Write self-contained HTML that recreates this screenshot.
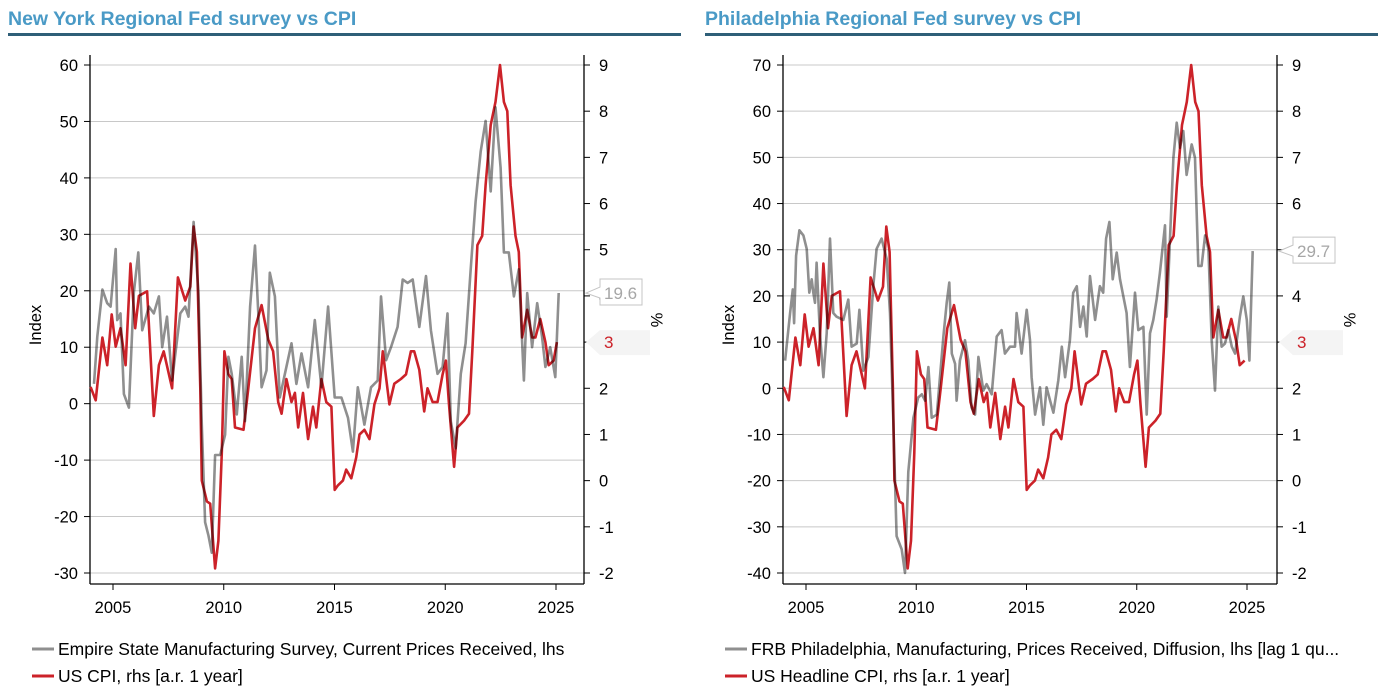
<!DOCTYPE html>
<html><head><meta charset="utf-8"><style>
body{margin:0;background:#fff;}
svg{display:block;font-family:"Liberation Sans",Arial,sans-serif;}
</style></head><body>
<svg id="root" width="1387" height="692" viewBox="0 0 1387 692">
<text x="8" y="25" font-size="19.5" font-weight="bold" fill="#4a9ac6">New York Regional Fed survey vs CPI</text>
<rect x="8" y="33" width="673" height="3" fill="#2f5f78"/>
<text x="705" y="25" font-size="19.5" font-weight="bold" fill="#4a9ac6">Philadelphia Regional Fed survey vs CPI</text>
<rect x="705" y="33" width="673" height="3" fill="#2f5f78"/>
<g id="ny"></g>
<g id="ph"></g>
</svg>
<script>
// ---- data ----
const cpiYears=[2003.99,2004.22,2004.52,2004.74,2004.94,2005.12,2005.34,2005.57,2005.79,2006.00,2006.17,2006.54,2006.84,2007.07,2007.29,2007.67,2007.93,2008.26,2008.49,2008.64,2008.79,2008.94,2009.01,2009.24,2009.39,2009.61,2009.76,2009.91,2010.03,2010.21,2010.36,2010.51,2010.89,2011.11,2011.41,2011.71,2012.01,2012.23,2012.46,2012.61,2012.83,2013.06,2013.21,2013.36,2013.58,2013.81,2014.03,2014.18,2014.41,2014.63,2014.86,2015.01,2015.16,2015.38,2015.53,2015.76,2015.98,2016.13,2016.35,2016.58,2016.80,2017.03,2017.18,2017.48,2017.70,2018.00,2018.23,2018.45,2018.60,2018.83,2019.05,2019.20,2019.43,2019.65,2019.88,2020.03,2020.17,2020.40,2020.55,2020.85,2021.07,2021.22,2021.45,2021.67,2021.82,2022.05,2022.27,2022.47,2022.65,2022.80,2022.95,2023.17,2023.32,2023.47,2023.70,2023.92,2024.07,2024.29,2024.52,2024.67,2024.89,2025.04];
const cpiValues=[2.03,1.74,3.1,2.5,3.6,2.9,3.3,2.5,4.7,3.3,4.0,4.1,1.4,2.5,2.8,2.0,4.4,3.9,4.2,5.5,4.95,2.0,0.0,-0.45,-0.5,-1.9,-1.3,0.6,2.8,2.3,2.2,1.15,1.1,2.0,3.3,3.8,3.05,2.8,1.7,1.45,2.2,1.7,1.9,1.15,1.9,0.9,1.6,1.15,2.2,1.7,1.6,-0.2,-0.1,0.0,0.24,0.05,0.5,1.0,1.1,0.9,1.65,2.0,2.8,1.65,2.1,2.2,2.3,2.8,2.8,2.4,1.5,2.0,1.7,1.7,2.3,2.6,1.65,0.3,1.15,1.3,1.45,2.8,5.1,5.3,6.4,7.7,8.2,9.0,8.2,8.0,6.4,5.3,4.95,3.1,3.7,3.1,3.1,3.5,3.0,2.5,2.6,3.0];
const nyYears=[2004.14,2004.29,2004.52,2004.74,2004.89,2005.12,2005.19,2005.34,2005.49,2005.72,2005.94,2006.14,2006.32,2006.62,2006.84,2007.07,2007.22,2007.44,2007.67,2008.04,2008.26,2008.41,2008.64,2008.86,2009.01,2009.16,2009.31,2009.46,2009.61,2009.84,2010.06,2010.21,2010.36,2010.59,2010.81,2010.96,2011.19,2011.41,2011.56,2011.71,2011.93,2012.08,2012.31,2012.53,2012.76,2013.06,2013.28,2013.51,2013.81,2014.11,2014.41,2014.71,2015.01,2015.31,2015.61,2015.83,2016.05,2016.35,2016.65,2016.95,2017.10,2017.33,2017.55,2017.85,2018.08,2018.30,2018.53,2018.83,2019.13,2019.35,2019.65,2019.88,2020.10,2020.25,2020.47,2020.70,2020.92,2021.15,2021.37,2021.60,2021.82,2022.05,2022.27,2022.50,2022.65,2022.87,2023.10,2023.32,2023.55,2023.70,2023.92,2024.15,2024.37,2024.52,2024.74,2024.97,2025.12];
const nyValues=[3.5,11.9,20.2,17.8,17.2,27.4,14.8,16,1.7,-0.7,19.6,26.8,13.0,17.2,16,19,10,15.4,4.1,16,17.2,15.4,32.2,19.6,-3.7,-21,-23.4,-26.4,-9.1,-9.1,-5.5,8.3,5.3,-1.9,8.3,-3.1,17.2,28,16,2.9,5.9,23.2,19,1.1,5.3,10.7,3.5,8.9,2.9,14.8,2.9,17.2,1.1,1.1,-2.5,-8.5,2.9,-3.7,2.9,4.1,19,7.7,10,13.6,22,21.4,22,13.6,22.6,13,5.3,6.5,16,-3.1,-7.9,5.3,10.7,23.8,35.8,44.7,50.1,37.6,52.5,41.8,26.8,26.8,19,23.8,4.1,19.6,10,17.8,11.9,6.5,10,4.7,19.6];
const phYears=[2004.05,2004.28,2004.40,2004.46,2004.55,2004.70,2004.88,2005.03,2005.15,2005.26,2005.33,2005.41,2005.48,2005.63,2005.79,2005.94,2006.09,2006.24,2006.39,2006.69,2006.92,2007.07,2007.30,2007.42,2007.60,2007.83,2008.05,2008.20,2008.43,2008.66,2008.81,2008.96,2009.11,2009.34,2009.49,2009.64,2009.87,2010.09,2010.25,2010.40,2010.55,2010.70,2010.93,2011.23,2011.38,2011.50,2011.61,2011.76,2011.83,2011.98,2012.21,2012.36,2012.51,2012.67,2012.82,2013.04,2013.19,2013.42,2013.65,2013.87,2014.02,2014.25,2014.48,2014.55,2014.78,2015.01,2015.16,2015.23,2015.39,2015.61,2015.76,2015.91,2016.07,2016.22,2016.44,2016.60,2016.75,2016.97,2017.12,2017.28,2017.43,2017.58,2017.73,2017.88,2018.11,2018.33,2018.48,2018.61,2018.76,2018.91,2019.09,2019.24,2019.54,2019.69,2019.92,2020.07,2020.30,2020.45,2020.60,2020.75,2020.90,2021.05,2021.28,2021.36,2021.51,2021.66,2021.81,2021.96,2022.11,2022.26,2022.49,2022.64,2022.79,2022.94,2023.10,2023.25,2023.40,2023.55,2023.70,2023.85,2024.00,2024.15,2024.31,2024.46,2024.68,2024.83,2024.99,2025.11,2025.26];
const phValues=[6.0,16.3,21.4,14.1,28.7,34.2,33.1,30.2,20.7,23.6,20.7,18.5,27.2,11.9,2.4,11.9,32.4,16.3,15.5,14.8,19.2,9.0,9.7,17.0,3.8,6.8,22.1,30.2,32.4,28.0,16.3,-7.1,-32.0,-34.9,-40.0,-18.1,-6.4,-2.0,-1.3,-2.7,4.6,-6.4,-5.7,11.2,18.5,22.9,7.5,5.3,-2.7,6.0,10.4,6.0,-4.2,-5.7,6.8,-0.5,0.9,-1.3,11.2,12.6,7.5,9.0,9.0,16.3,7.5,17.0,10.4,2.4,-5.7,0.2,-7.9,0.2,-2.7,-5.3,1.7,9.0,2.4,10.4,20.7,22.1,13.3,17.7,11.2,24.3,14.8,22.1,20.7,32.4,36.0,23.6,29.4,23.6,16.3,4.6,20.7,12.6,13.3,-5.7,11.9,14.8,19.2,25.0,35.3,15.5,32.4,49.9,57.5,52.1,55.7,46.2,52.8,49.9,26.5,26.5,33.1,30.2,10.4,-0.5,17.7,9.0,9.7,12.6,9.0,7.5,15.5,19.9,14.8,6.0,29.7];
const xTicks=[2005,2010,2015,2020,2025];
const nyLeftTicks=[60,50,40,30,20,10,0,-10,-20,-30];
const phLeftTicks=[70,60,50,40,30,20,10,0,-10,-20,-30,-40];
const rightTicks=[9,8,7,6,5,4,3,2,1,0,-1,-2];

const NS='http://www.w3.org/2000/svg';
function mk(parent,tag,attrs,name,text){
  const e=document.createElementNS(NS,tag);
  for(const k in attrs)e.setAttribute(k,attrs[k]);
  
  
  if(text!==undefined)e.textContent=text;
  parent.appendChild(e);return e;
}
function chart(g,cfg){
  const top=65,bot=573,L=cfg.L,R=cfg.R;
  const x=y=>cfg.x2005+(y-2005)*cfg.xs;
  const yl=v=>top+(cfg.lmax-v)/(cfg.lmax-cfg.lmin)*(bot-top);
  const yr=v=>top+(9-v)/11*(bot-top);
  cfg.lt.forEach(t=>{
    mk(g,'line',{x1:L,x2:R,y1:yl(t),y2:yl(t),stroke:'#c8c8c8','stroke-width':1},'gridline');
    mk(g,'line',{x1:L-6,x2:L,y1:yl(t),y2:yl(t),stroke:'#000'},'left-tick');
    mk(g,'text',{x:L-12,y:yl(t)+6,'text-anchor':'end','font-size':16.5,fill:'#000'},'left-tick-label',String(t));
  });
  rightTicks.forEach(t=>{
    mk(g,'line',{x1:R,x2:R+6,y1:yr(t),y2:yr(t),stroke:'#000'},'right-tick');
    mk(g,'text',{x:R+15,y:yr(t)+6,'font-size':16.5,fill:'#000'},'right-tick-label',String(t));
  });
  xTicks.forEach(t=>{
    mk(g,'line',{x1:x(t),x2:x(t),y1:584,y2:590,stroke:'#000'},'x-tick');
    mk(g,'text',{x:x(t),y:613,'text-anchor':'middle','font-size':16.5,fill:'#000'},'x-tick-label',String(t));
  });
  mk(g,'line',{x1:L,x2:L,y1:55,y2:584,stroke:'#000','stroke-width':1.3},'left-axis');
  mk(g,'line',{x1:R,x2:R,y1:55,y2:584,stroke:'#000','stroke-width':1.3},'right-axis');
  mk(g,'line',{x1:L,x2:R,y1:584,y2:584,stroke:'#000','stroke-width':1.3},'x-axis');
  mk(g,'text',{x:0,y:0,transform:`translate(${L-49},325) rotate(-90)`,'text-anchor':'middle','font-size':16.5},'y-axis-title-left','Index');
  mk(g,'text',{x:0,y:0,transform:`translate(${R+67},320) rotate(90)`,'text-anchor':'middle','font-size':16.5},'y-axis-title-right','%');
  let n=cfg.cpiN;
  let d=cpiYears.slice(0,n).map((yy,i)=>(i?'L':'M')+x(yy).toFixed(1)+' '+yr(cpiValues[i]).toFixed(1)).join('');
  mk(g,'path',{d:d,fill:'none',stroke:'#cc2229','stroke-width':2.6,'stroke-linejoin':'round'},'cpi-line');
  d=cfg.gy.map((yy,i)=>(i?'L':'M')+x(yy).toFixed(1)+' '+yl(cfg.gv[i]).toFixed(1)).join('');
  mk(g,'path',{d:d,fill:'none',stroke:'#8f8f8f','stroke-width':2.6,'stroke-linejoin':'round',style:'mix-blend-mode:multiply'},'survey-line');
  const gl=cfg.gv[cfg.gv.length-1], gyy=yl(gl);
  mk(g,'path',{d:`M${R+2} ${gyy} L${R+16} ${gyy-6} L${R+16} ${gyy-14} L${R+58} ${gyy-14} L${R+58} ${gyy+12} L${R+16} ${gyy+12} L${R+16} ${gyy+5} Z`,fill:'#fff',stroke:'#c4c4c4','stroke-width':1},'survey-last-value-tag');
  mk(g,'text',{x:R+20,y:gyy+6,'font-size':17,fill:'#a6a6a6'},'survey-last-value',gl.toFixed(1));
  const cl=cpiValues[n-1], cy=yr(3);
  mk(g,'path',{d:`M${R+2} ${cy} L${R+16} ${cy-12} L${R+66} ${cy-12} L${R+66} ${cy+13} L${R+16} ${cy+13} Z`,fill:'#f4f4f4'},'cpi-last-value-tag');
  mk(g,'text',{x:R+20,y:cy+6,'font-size':17,fill:'#cc2229'},'cpi-last-value',String(Math.round(cl)));
  mk(g,'line',{x1:L-58,x2:L-36,y1:649,y2:649,stroke:'#8f8f8f','stroke-width':3},'legend-survey-swatch');
  mk(g,'text',{x:L-32,y:655,'font-size':17.5},'legend-survey-label',cfg.leg1);
  mk(g,'line',{x1:L-58,x2:L-36,y1:676,y2:676,stroke:'#cc2229','stroke-width':3},'legend-cpi-swatch');
  mk(g,'text',{x:L-32,y:682,'font-size':17.5},'legend-cpi-label',cfg.leg2);
}
chart(document.getElementById('ny'),{L:90,R:584,x2005:113,xs:22.15,lmax:60,lmin:-30,lt:nyLeftTicks,gy:nyYears,gv:nyValues,cpiN:cpiYears.length,leg1:'Empire State Manufacturing Survey, Current Prices Received, lhs',leg2:'US CPI, rhs [a.r. 1 year]'});
chart(document.getElementById('ph'),{L:783,R:1277,x2005:806,xs:22.05,lmax:70,lmin:-40,lt:phLeftTicks,gy:phYears,gv:phValues,cpiN:cpiYears.length-1,leg1:'FRB Philadelphia, Manufacturing, Prices Received, Diffusion, lhs [lag 1 qu...',leg2:'US Headline CPI, rhs [a.r. 1 year]'});
</script>
</body></html>
